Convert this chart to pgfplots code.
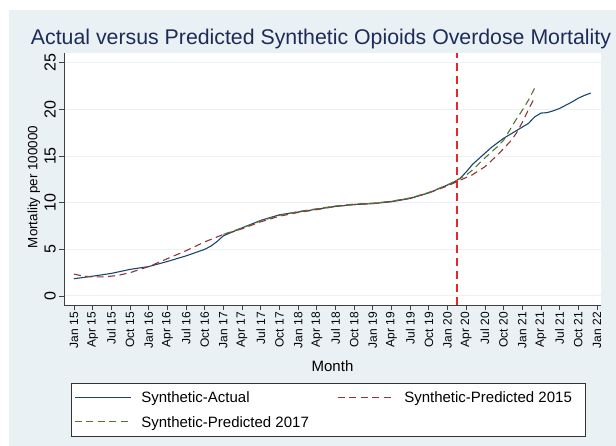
\documentclass[border=0pt]{standalone}
\usepackage{fontspec}
\setmainfont{Liberation Sans}
\usepackage{pgfplots}
\pgfplotsset{compat=1.18}

\definecolor{regionbg}{RGB}{234,241,244}
\definecolor{gridcol}{RGB}{234,241,244}
\definecolor{titlecol}{RGB}{28,44,88}
\definecolor{actualcol}{RGB}{26,71,111}
\definecolor{pred15col}{RGB}{144,53,59}
\definecolor{pred17col}{RGB}{85,117,47}
\definecolor{xlinecol}{RGB}{232,38,47}

\newcommand{\fs}[1]{\fontsize{#1}{#1}\selectfont}
% fixed-width legend text, so both legend columns line up
\newcommand{\legtext}[1]{\makebox[176pt][l]{#1}}

\begin{document}
\begin{tikzpicture}[x=1pt,y=1pt]
\fill[white] (0,0) rectangle (616,446);
\fill[regionbg] (8.5,0) rectangle (616,436);

\begin{axis}[
  at={(64pt,141pt)}, anchor=south west,
  scale only axis, width=537pt, height=252pt,
  xmin=-1.6, xmax=84.64, ymin=-0.964, ymax=26.04,
  axis background/.style={fill=white},
  axis x line*=bottom, axis y line*=left,
  axis line style={-, draw=black!75, line width=0.8pt},
  tick align=outside, major tick length=5pt,
  tick style={draw=black!75, line width=0.8pt},
  xtick pos=bottom, ytick pos=left,
  ymajorgrids, grid style={gridcol, line width=1pt},
  ytick={0,5,10,15,20,25},
  xtick={0,3,...,84},
  xticklabels={Jan 15,Apr 15,Jul 15,Oct 15,Jan 16,Apr 16,Jul 16,Oct 16,
               Jan 17,Apr 17,Jul 17,Oct 17,Jan 18,Apr 18,Jul 18,Oct 18,
               Jan 19,Apr 19,Jul 19,Oct 19,Jan 20,Apr 20,Jul 20,Oct 20,
               Jan 21,Apr 21,Jul 21,Oct 21,Jan 22},
  /pgf/number format/assume math mode=true,
  xticklabel style={yshift=-2pt, rotate=90, anchor=east, inner sep=0pt, font=\fs{12}},
  yticklabel style={xshift=-3pt, rotate=90, anchor=south, inner sep=0pt, font=\fs{16}},
  xlabel={Month},
  every axis x label/.style={at={(axis description cs:0.5,-0.2635)}, anchor=base, font=\fs{15}},
  ylabel={Mortality per 100000},
  every axis y label/.style={at={(axis description cs:-0.0494,0.468)}, rotate=90, anchor=base, font=\fs{13.4}},
  legend columns=2,
  legend style={at={(axis description cs:0.013,-0.3083)}, anchor=north west,
    draw=black!80, line width=0.6pt, fill=white, font=\fs{15},
    inner xsep=3pt, inner ysep=3pt,
    column sep=8pt, row sep=2.5pt,
    nodes={inner sep=2pt, text height=14.3pt, text depth=4pt},
    /tikz/every even column/.append style={column sep=18pt}},
  legend cell align=left,
  legend image code/.code={\draw[#1, line width=1pt] (0pt,0pt) -- (56pt,0pt);},
]

% observed synthetic opioid overdose mortality
\addplot[actualcol, line width=1.1pt] coordinates {
 (0,1.85) (3,2.12) (6,2.42) (9,2.85) (12,3.15) (15,3.7) (18,4.3) (21,5.0)
 (22,5.35) (23,5.85) (24,6.45) (27,7.3) (30,8.1) (33,8.7) (36,9.0) (39,9.3) (42,9.6)
 (45,9.8) (48,9.9) (51,10.1) (54,10.45) (57,11.05) (60,11.9) (61,12.2)
 (62,12.6) (63,13.3) (64,14.1) (65,14.7) (66,15.3) (67,15.9) (68,16.4)
 (69,16.9) (70,17.3) (71,17.7) (72,18.1) (73,18.5) (74,19.2) (75,19.6)
 (76,19.65) (77,19.85) (78,20.1) (79,20.45) (80,20.8) (81,21.2) (82,21.5)
 (83,21.75)
};
\addlegendentry{\legtext{Synthetic-Actual}}

% model fitted from 2015
\addplot[pred15col, line width=1.1pt, dash pattern=on 7pt off 4.5pt] coordinates {
 (0,2.35) (1,2.2) (2,2.1) (3,2.05) (5,2.05) (7,2.2) (9,2.5) (12,3.15)
 (15,4.0) (18,4.85) (21,5.8) (24,6.6) (27,7.2) (30,7.95) (33,8.55)
 (36,8.95) (39,9.25) (42,9.6) (45,9.8) (48,9.9) (51,10.15) (54,10.5)
 (57,11.05) (60,11.8) (62,12.4) (64,13.0) (66,13.85) (68,15.1) (70,16.5)
 (71,17.4) (72,18.6) (73,20.0) (74,21.3)
};
\addlegendentry{\legtext{Synthetic-Predicted 2015}}

% model fitted from 2017
\addplot[pred17col, line width=1.1pt, dash pattern=on 7pt off 4.5pt] coordinates {
 (24,6.6) (27,7.3) (30,8.05) (33,8.65) (36,9.05) (39,9.35) (42,9.65)
 (45,9.85) (48,9.95) (51,10.15) (54,10.5) (57,11.1) (60,11.9) (62,12.6)
 (63,12.95) (64,13.5) (66,14.8) (68,16.0) (69,16.7) (70,17.8) (71,18.9)
 (72,19.9) (73,21.0) (74,22.3)
};
\addlegendentry{\legtext{Synthetic-Predicted 2017}}

% intervention date
\addplot[xlinecol, line width=1.6pt, dash pattern=on 8pt off 5pt, forget plot]
  coordinates {(61.5,-0.964) (61.5,26.04)};
\end{axis}

\node[anchor=base, text=titlecol, font=\fs{21.3}, inner sep=0pt] at (321,401.7)
  {Actual versus Predicted Synthetic Opioids Overdose Mortality};

\pgfresetboundingbox
\useasboundingbox (0,0) rectangle (616,446);
\end{tikzpicture}
\end{document}
